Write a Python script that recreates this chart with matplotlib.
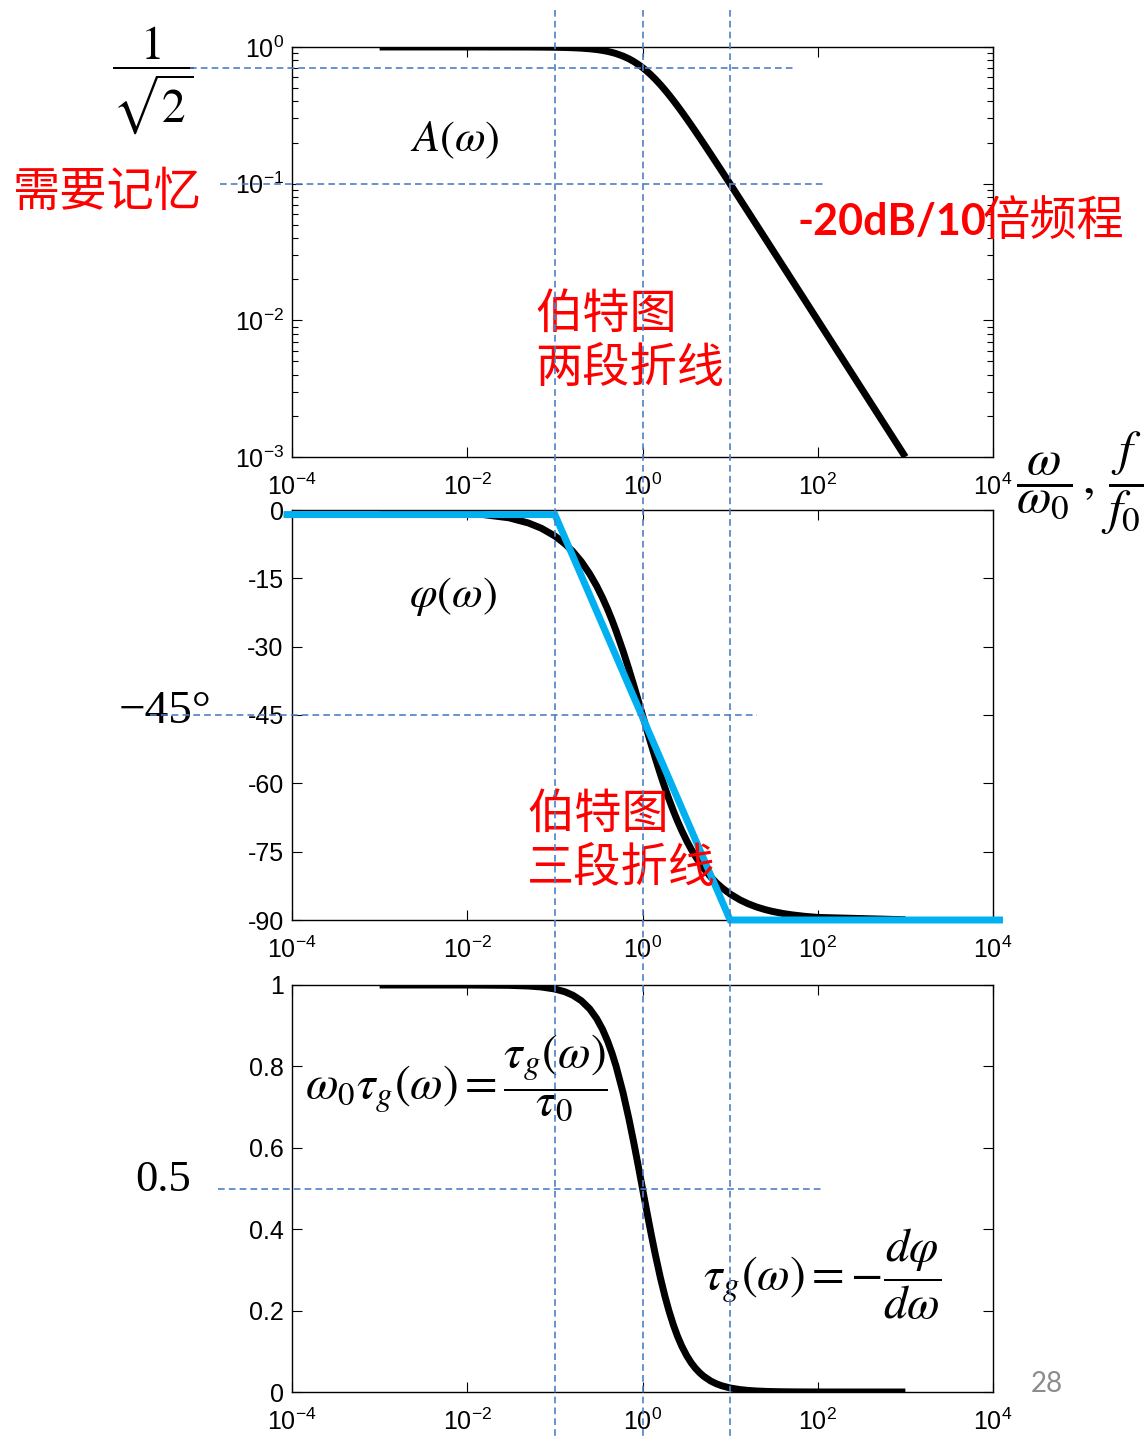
import matplotlib
matplotlib.use("Agg")
import matplotlib.pyplot as plt
from matplotlib.lines import Line2D
from matplotlib.ticker import LogLocator, LogFormatterSciNotation, NullLocator, FixedLocator
from matplotlib.transforms import blended_transform_factory

plt.rcParams['font.family'] = ['Liberation Sans', 'DejaVu Sans']
plt.rcParams['mathtext.fontset'] = 'custom'
plt.rcParams['mathtext.rm'] = 'Liberation Sans'
plt.rcParams['mathtext.it'] = 'Liberation Sans:italic'
plt.rcParams['mathtext.bf'] = 'Liberation Sans:bold'
plt.rcParams['axes.unicode_minus'] = False

# 归一化频率 ω/ω0
omega = [1e-3, 1e-2, 0.03, 0.05, 0.07, 0.1, 0.13, 0.16, 0.2, 0.25, 0.3, 0.35, 0.4, 0.45,
         0.5, 0.6, 0.7, 0.8, 0.9, 1.0, 1.1, 1.25, 1.4, 1.6, 1.8, 2.0, 2.25, 2.5, 2.8, 3.2,
         3.6, 4.0, 4.5, 5.0, 6.0, 7.0, 8.0, 10.0, 13.0, 16.0, 20.0, 25.0, 30.0, 40.0,
         50.0, 70.0, 100.0, 1000.0]
# 幅频 A(ω)
amp = [1.0, 0.99995, 0.99955, 0.99875, 0.99756, 0.99504, 0.99165, 0.98744, 0.98058,
       0.97014, 0.95783, 0.94386, 0.92848, 0.91192, 0.89443, 0.85749, 0.81923, 0.78087,
       0.74329, 0.70711, 0.67267, 0.62470, 0.58124, 0.52999, 0.48564, 0.44721, 0.40614,
       0.37139, 0.33633, 0.29827, 0.26764, 0.24254, 0.21693, 0.19612, 0.16440, 0.14142,
       0.12403, 0.09950, 0.07670, 0.06238, 0.04994, 0.03997, 0.03331, 0.02499, 0.02000,
       0.01429, 0.01000, 0.00100]
# 相频 φ(ω)，度
phase = [-0.06, -0.57, -1.72, -2.86, -4.00, -5.71, -7.41, -9.09, -11.31, -14.04, -16.70,
         -19.29, -21.80, -24.23, -26.57, -30.96, -34.99, -38.66, -41.99, -45.00, -47.73,
         -51.34, -54.46, -57.99, -60.95, -63.43, -66.04, -68.20, -70.35, -72.65, -74.48,
         -75.96, -77.47, -78.69, -80.54, -81.87, -82.87, -84.29, -85.60, -86.42, -87.14,
         -87.71, -88.09, -88.57, -88.85, -89.18, -89.43, -89.94]
# 群时延 ω0·τg(ω)
delay = [1.0, 0.9999, 0.9991, 0.9975, 0.9951, 0.9901, 0.9834, 0.9750, 0.9615, 0.9412,
         0.9174, 0.8909, 0.8621, 0.8316, 0.8000, 0.7353, 0.6711, 0.6098, 0.5525, 0.5000,
         0.4525, 0.3902, 0.3378, 0.2809, 0.2358, 0.2000, 0.1649, 0.1379, 0.1131, 0.0890,
         0.0716, 0.0588, 0.0471, 0.0385, 0.0270, 0.0200, 0.0154, 0.0099, 0.0059, 0.0039,
         0.0025, 0.0016, 0.0011, 0.0006, 0.0004, 0.0002, 0.0001, 0.0]
# 相频三段折线（渐近线）
asym_w = [8e-5, 0.1, 10.0, 1.3e4]
asym_phi = [-1.0, -1.0, -90.0, -90.0]

phase_ticks = [0, -15, -30, -45, -60, -75, -90]
delay_ticks = [0, 0.2, 0.4, 0.6, 0.8, 1]
delay_ticklabels = ['0', '0.2', '0.4', '0.6', '0.8', '1']
corner_w = [0.1, 1.0, 10.0]

W, H = 1147, 1440
fig = plt.figure(figsize=(W / 100, H / 100), dpi=100)


def fx(px):
    return px / W


def fy(py):
    return 1 - py / H


def make_ax(top, bottom):
    ax = fig.add_axes([fx(292), fy(bottom), fx(993) - fx(292), fy(top) - fy(bottom)])
    ax.set_xscale('log')
    ax.set_xlim(1e-4, 1e4)
    ax.xaxis.set_major_locator(FixedLocator([1e-4, 1e-2, 1e0, 1e2, 1e4]))
    ax.xaxis.set_major_formatter(LogFormatterSciNotation())
    ax.xaxis.set_minor_locator(NullLocator())
    ax.tick_params(which='both', direction='in', top=True, right=True, labelsize=18,
                   width=0.8)
    ax.tick_params(which='major', length=7)
    ax.tick_params(which='minor', length=4)
    ax.tick_params(axis='x', pad=12)
    ax.tick_params(axis='y', pad=6)
    for s in ax.spines.values():
        s.set_linewidth(1.0)
    return ax


ax1 = make_ax(47, 457)
ax2 = make_ax(510, 920)
ax3 = make_ax(985, 1392)

black = dict(color='black', lw=5, solid_capstyle='butt', solid_joinstyle='round')

# 幅频
ax1.set_yscale('log')
ax1.set_ylim(1e-3, 1e0)
ax1.yaxis.set_major_locator(LogLocator(base=10, numticks=10))
ax1.yaxis.set_minor_locator(LogLocator(base=10, subs=range(2, 10), numticks=10))
ax1.yaxis.set_major_formatter(LogFormatterSciNotation())
ax1.plot(omega, amp, **black)

# 相频
ax2.set_ylim(-90, 0)
ax2.set_yticks(phase_ticks)
ax2.set_yticklabels([str(t) for t in phase_ticks])
ax2.plot(omega, phase, **black)
ax2.plot(asym_w, asym_phi, color='#00B0F0', lw=5, clip_on=False,
         solid_joinstyle='miter', solid_capstyle='butt', zorder=5)

# 群时延
ax3.set_ylim(0, 1)
ax3.set_yticks(delay_ticks)
ax3.set_yticklabels(delay_ticklabels)
ax3.plot(omega, delay, **black)

# 蓝色虚线辅助线
dash = dict(color='#4F7FC4', lw=1.2, ls=(0, (4, 2.5)), zorder=10)
vtrans = blended_transform_factory(ax1.transData, fig.transFigure)
for w in corner_w:
    fig.add_artist(Line2D([w, w], [fy(10), fy(1440)], transform=vtrans, **dash))


def hline(ax, y, x0, x1):
    tr = blended_transform_factory(fig.transFigure, ax.transData)
    fig.add_artist(Line2D([fx(x0), fx(x1)], [y, y], transform=tr, **dash))


hline(ax1, 0.7071, 190, 793)
hline(ax1, 0.1, 220, 825)
hline(ax2, -45, 150, 757)
hline(ax3, 0.5, 218, 823)

red = '#FF0000'
cjk = ['Noto Sans CJK SC', 'DejaVu Sans']


def ftext(px, py, s, **kw):
    kw.setdefault('ha', 'center')
    kw.setdefault('va', 'center')
    return fig.text(fx(px), fy(py), s, **kw)


ftext(153, 80, r'$\dfrac{1}{\sqrt{2}}$', fontsize=34, math_fontfamily='stix')
ftext(107, 193, '需要记忆', fontsize=34, color=red, family=cjk)
ftext(455, 140, r'$A\left(\omega\right)$', fontsize=32, math_fontfamily='stix')
ftext(797, 222, '-20dB/10', fontsize=31, color=red, ha='left',
      family=['Lato', 'DejaVu Sans'], weight='bold')
ftext(983, 222, '倍频程', fontsize=34, color=red, ha='left', family=cjk)
ftext(535, 342, '伯特图\n两段折线', fontsize=34, color=red, family=cjk, ha='left',
      linespacing=1.15)
ftext(1080, 483, r'$\dfrac{\omega}{\omega_0}\,,\,\dfrac{f}{f_0}$', fontsize=36,
      math_fontfamily='stix')
ftext(453, 597, r'$\varphi\left(\omega\right)$', fontsize=32, math_fontfamily='stix')
ftext(165, 712, '−45°', fontsize=34, family=['Liberation Serif'])
ftext(527, 842, '伯特图\n三段折线', fontsize=34, color=red, family=cjk, ha='left',
      linespacing=1.15)
ftext(456, 1078, r'$\omega_0\tau_g\left(\omega\right)=\dfrac{\tau_g\left(\omega\right)}{\tau_0}$',
      fontsize=34, math_fontfamily='stix')
ftext(163, 1180, '0.5', fontsize=32, family=['Liberation Serif'])
ftext(822, 1274, r'$\tau_g\left(\omega\right)=-\dfrac{d\varphi}{d\omega}$', fontsize=34,
      math_fontfamily='stix')
ftext(1047, 1384, '28', fontsize=20, color='#8C8C8C', family=['Lato', 'DejaVu Sans'])

fig.savefig('out.png', dpi=100)
